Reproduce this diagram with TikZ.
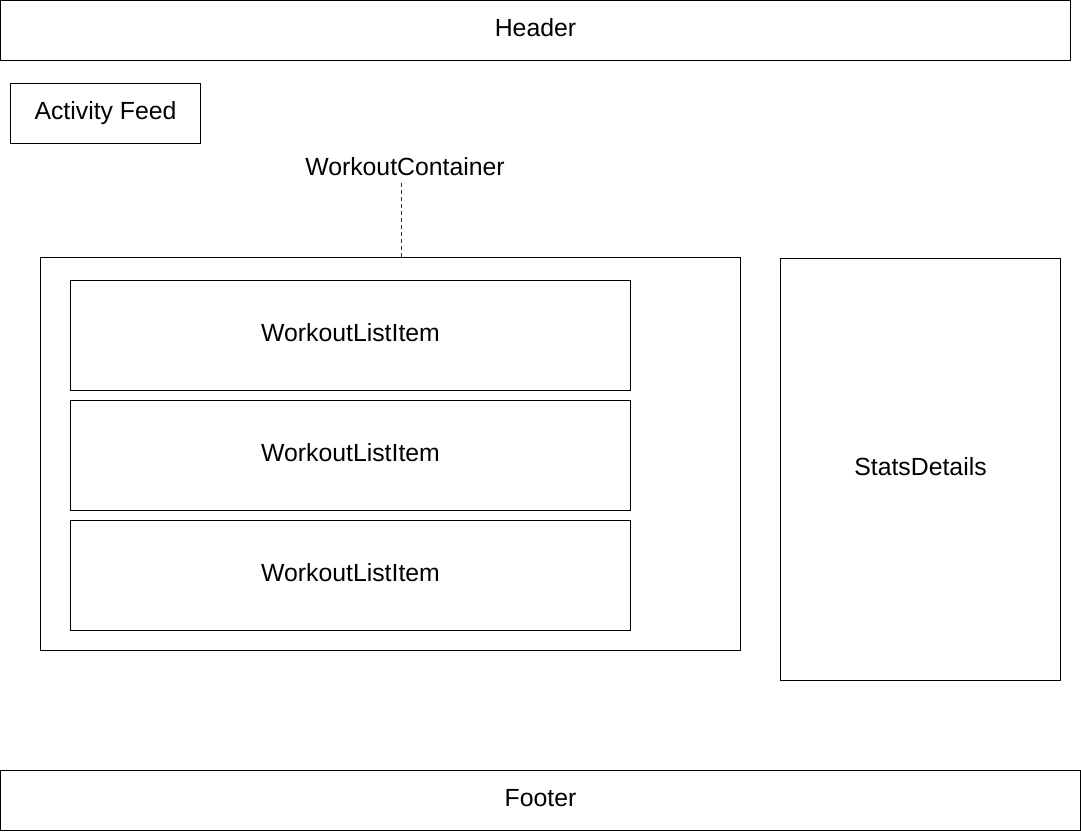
\documentclass[tikz,border=0pt]{standalone}
\usepackage{fontspec}
\setmainfont{Liberation Sans}
\begin{document}
\begin{tikzpicture}[x=1pt,y=-1pt,
  every node/.style={font=\fontsize{24.8}{30}\selectfont, inner sep=0pt, text height=17.7pt, text depth=6.3pt},
  box/.style={draw=black, line width=1pt, anchor=north west, fill=white},
  conn/.style={draw=black!80, line width=1pt, dash pattern=on 4pt off 3pt}]
\useasboundingbox (0,0) rectangle (1081,831);
\node[box, minimum width=1070pt, minimum height=60pt] (header) at (0,0) {Header};
\node[box, minimum width=190pt, minimum height=60pt] (feed) at (10,83) {Activity Feed};
\node (wclabel) at (405,170) {WorkoutContainer};
\node[box, minimum width=700pt, minimum height=393pt] (cont) at (40,257) {};
\node[box, minimum width=560pt, minimum height=110pt] (item1) at (70,280) {WorkoutListItem};
\node[box, minimum width=560pt, minimum height=110pt] (item2) at (70,400) {WorkoutListItem};
\node[box, minimum width=560pt, minimum height=110pt] (item3) at (70,520) {WorkoutListItem};
\node[box, minimum width=280pt, minimum height=422pt] (stats) at (780,258) {StatsDetails};
\node[box, minimum width=1080pt, minimum height=60pt] (footer) at (0,770) {Footer};
\coordinate (dx) at (401,0);
\draw[conn] ([yshift=-1pt]wclabel.south -| dx) -- (cont.north -| dx);
\end{tikzpicture}
\end{document}
